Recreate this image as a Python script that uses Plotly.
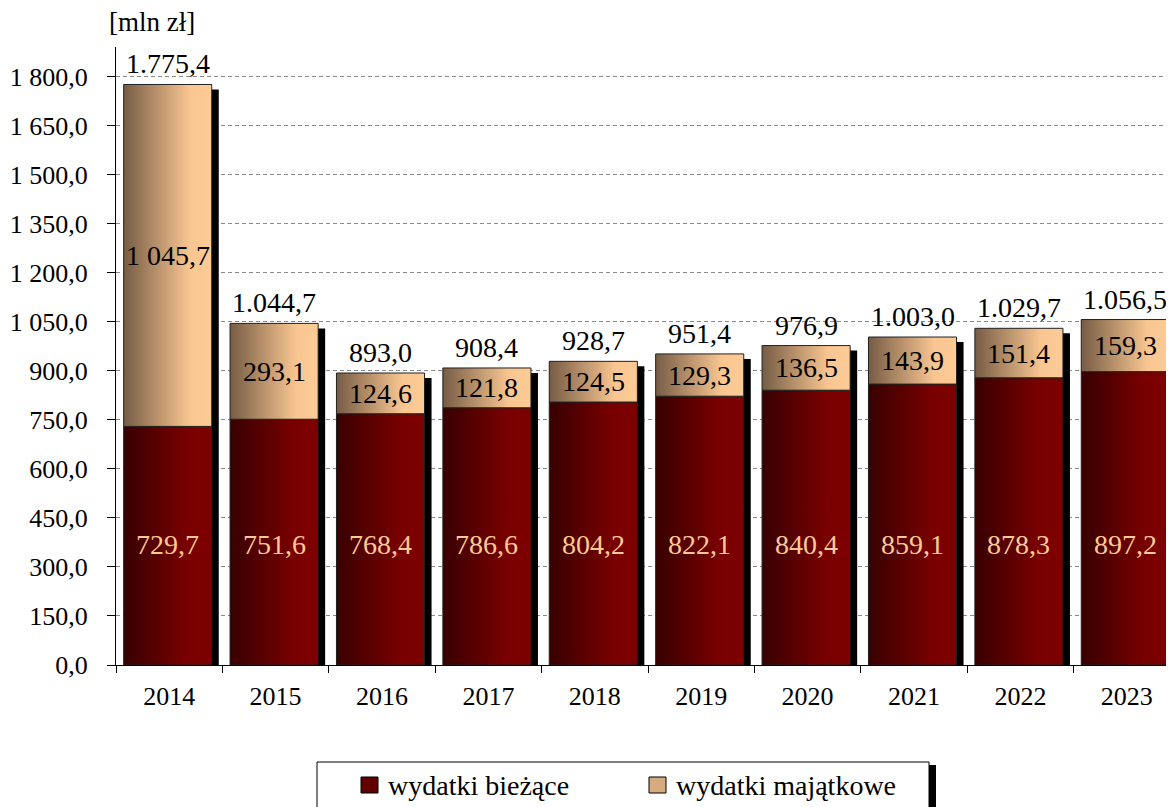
import plotly.graph_objects as go

# ---------------- data ----------------
years = ["2014", "2015", "2016", "2017", "2018", "2019", "2020", "2021", "2022", "2023"]
wydatki_biezace = [729.7, 751.6, 768.4, 786.6, 804.2, 822.1, 840.4, 859.1, 878.3, 897.2]
wydatki_majatkowe = [1045.7, 293.1, 124.6, 121.8, 124.5, 129.3, 136.5, 143.9, 151.4, 159.3]
y_ticks = [0, 150, 300, 450, 600, 750, 900, 1050, 1200, 1350, 1500, 1650, 1800]

# ---------------- style ----------------
FONT = '"Liberation Serif", "Times New Roman", Times, serif'
FS_TICK = 26
FS_LBL = 28
PAGE_OFF = 8                      # default body margin of the html page
W, H = 1174 - PAGE_OFF, 807 - PAGE_OFF
PLOT_LEFT, PLOT_RIGHT, PLOT_TOP, PLOT_BOTTOM = 116, 1174, 47, 665   # page pixels
L = PLOT_LEFT - PAGE_OFF
T = PLOT_TOP - PAGE_OFF
R = 0
B = H + PAGE_OFF - PLOT_BOTTOM
PLOT_W = PLOT_RIGHT - PLOT_LEFT
PLOT_H = PLOT_BOTTOM - PLOT_TOP
CAT_PX = 106.4
X_MIN = -0.5
X_MAX = X_MIN + PLOT_W / CAT_PX
Y_MAX = 1890
PX_PER_Y = PLOT_H / Y_MAX

HALF_W = 0.414
X_OFF = -0.014
SH_DX = 7 / CAT_PX
SH_DY = 5 / PX_PER_Y

RED_SCALE = [[0, "#380000"], [0.72, "#790000"], [1, "#7e0000"]]
TAN_SCALE = [[0, "#765c45"], [0.75, "#f9c691"], [1, "#fdcb96"]]
EDGE = "#202020"


def fmt_space(v):
    s = f"{v:,.1f}"
    return s.replace(",", " ").replace(".", ",")


def fmt_dot(v):
    s = f"{v:,.1f}"
    return s.replace(",", "#").replace(".", ",").replace("#", ".")


def px_x(p):
    return (p - PLOT_LEFT) / PLOT_W


def px_y(p):
    return (PLOT_BOTTOM - p) / PLOT_H


fig = go.Figure()

totals = [a + b for a, b in zip(wydatki_biezace, wydatki_majatkowe)]

# shadows
for i, tot in enumerate(totals):
    c = i + X_OFF
    x0, x1 = c - HALF_W + SH_DX, c + HALF_W + SH_DX
    y1 = tot - SH_DY
    fig.add_trace(go.Scatter(
        x=[x0, x1, x1, x0, x0], y=[0, 0, y1, y1, 0],
        mode="lines", fill="toself", fillcolor="black",
        line=dict(color="black", width=0), showlegend=False, hoverinfo="skip"))

# bars
for i, (b, m) in enumerate(zip(wydatki_biezace, wydatki_majatkowe)):
    c = i + X_OFF
    x0, x1 = c - HALF_W, c + HALF_W
    fig.add_trace(go.Scatter(
        x=[x0, x1, x1, x0, x0], y=[0, 0, b, b, 0],
        mode="lines", fill="toself",
        fillgradient=dict(type="horizontal", colorscale=RED_SCALE),
        line=dict(color=EDGE, width=1), showlegend=False,
        name="wydatki bieżące", hoverinfo="skip"))
    fig.add_trace(go.Scatter(
        x=[x0, x1, x1, x0, x0], y=[b, b, b + m, b + m, b],
        mode="lines", fill="toself",
        fillgradient=dict(type="horizontal", colorscale=TAN_SCALE),
        line=dict(color=EDGE, width=1), showlegend=False,
        name="wydatki majątkowe", hoverinfo="skip"))

annotations = []
BOTTOM_LABEL_Y = 370
for i, (b, m, tot) in enumerate(zip(wydatki_biezace, wydatki_majatkowe, totals)):
    c = i + X_OFF
    annotations.append(dict(x=c, y=tot, text=fmt_dot(tot), showarrow=False,
                            xanchor="center", yanchor="bottom", yshift=3,
                            font=dict(family=FONT, size=FS_LBL, color="black")))
    annotations.append(dict(x=c, y=b + m / 2, text=fmt_space(m), showarrow=False,
                            xanchor="center", yanchor="middle",
                            font=dict(family=FONT, size=FS_LBL, color="black")))
    annotations.append(dict(x=c, y=BOTTOM_LABEL_Y, text=fmt_space(b), showarrow=False,
                            xanchor="center", yanchor="middle",
                            font=dict(family=FONT, size=FS_LBL, color="#fccb95")))

# unit label
annotations.append(dict(xref="paper", yref="paper", x=px_x(152), y=px_y(22),
                        xanchor="center", yanchor="middle",
                        text="[mln zł]", showarrow=False,
                        font=dict(family=FONT, size=27, color="black")))

# legend (drawn manually)
shapes = []
shapes.append(dict(type="rect", xref="paper", yref="paper",
                   x0=px_x(929), x1=px_x(936), y0=px_y(765), y1=px_y(830),
                   fillcolor="black", line=dict(width=0)))
shapes.append(dict(type="rect", xref="paper", yref="paper",
                   x0=px_x(317), x1=px_x(929), y0=px_y(762), y1=px_y(830),
                   fillcolor="white", line=dict(color="black", width=1)))
shapes.append(dict(type="rect", xref="paper", yref="paper",
                   x0=px_x(361), x1=px_x(378), y0=px_y(777), y1=px_y(793),
                   fillcolor="#600000", line=dict(color="black", width=1)))
shapes.append(dict(type="rect", xref="paper", yref="paper",
                   x0=px_x(649), x1=px_x(666), y0=px_y(777), y1=px_y(793),
                   fillcolor="#d8ab7e", line=dict(color="black", width=1)))
annotations.append(dict(xref="paper", yref="paper", x=px_x(386), y=px_y(785),
                        xanchor="left", yanchor="middle", text="wydatki bieżące",
                        showarrow=False, font=dict(family=FONT, size=FS_LBL, color="black")))
annotations.append(dict(xref="paper", yref="paper", x=px_x(674), y=px_y(785),
                        xanchor="left", yanchor="middle", text="wydatki majątkowe",
                        showarrow=False, font=dict(family=FONT, size=FS_LBL, color="black")))

fig.update_layout(
    width=W, height=H,
    margin=dict(l=L, r=R, t=T, b=B, pad=0),
    plot_bgcolor="white", paper_bgcolor="white",
    font=dict(family=FONT, size=FS_TICK, color="black"),
    separators=", ",
    showlegend=False,
    annotations=annotations,
    shapes=shapes,
    xaxis=dict(
        range=[X_MIN, X_MAX],
        tickmode="array", tickvals=list(range(len(years))), ticktext=years,
        ticks="", showgrid=False, zeroline=False,
        showline=True, linecolor="black", linewidth=1,
        ticklabelstandoff=8,
        minor=dict(tickmode="array",
                   tickvals=[k - 0.5 for k in range(len(years) + 1)],
                   ticks="outside", ticklen=7, tickcolor="black", showgrid=False),
        tickfont=dict(family=FONT, size=FS_TICK),
        fixedrange=True,
    ),
    yaxis=dict(
        range=[0, Y_MAX],
        tickmode="array", tickvals=y_ticks, ticktext=[fmt_space(v) for v in y_ticks],
        ticks="outside", ticklen=8, tickcolor="black",
        showgrid=True, gridcolor="#8a8a8a", griddash="4px,3px", gridwidth=1,
        zeroline=False, showline=True, linecolor="black", linewidth=1,
        ticklabelstandoff=14,
        tickfont=dict(family=FONT, size=FS_TICK),
        fixedrange=True,
    ),
)

fig.write_html("out.html")
